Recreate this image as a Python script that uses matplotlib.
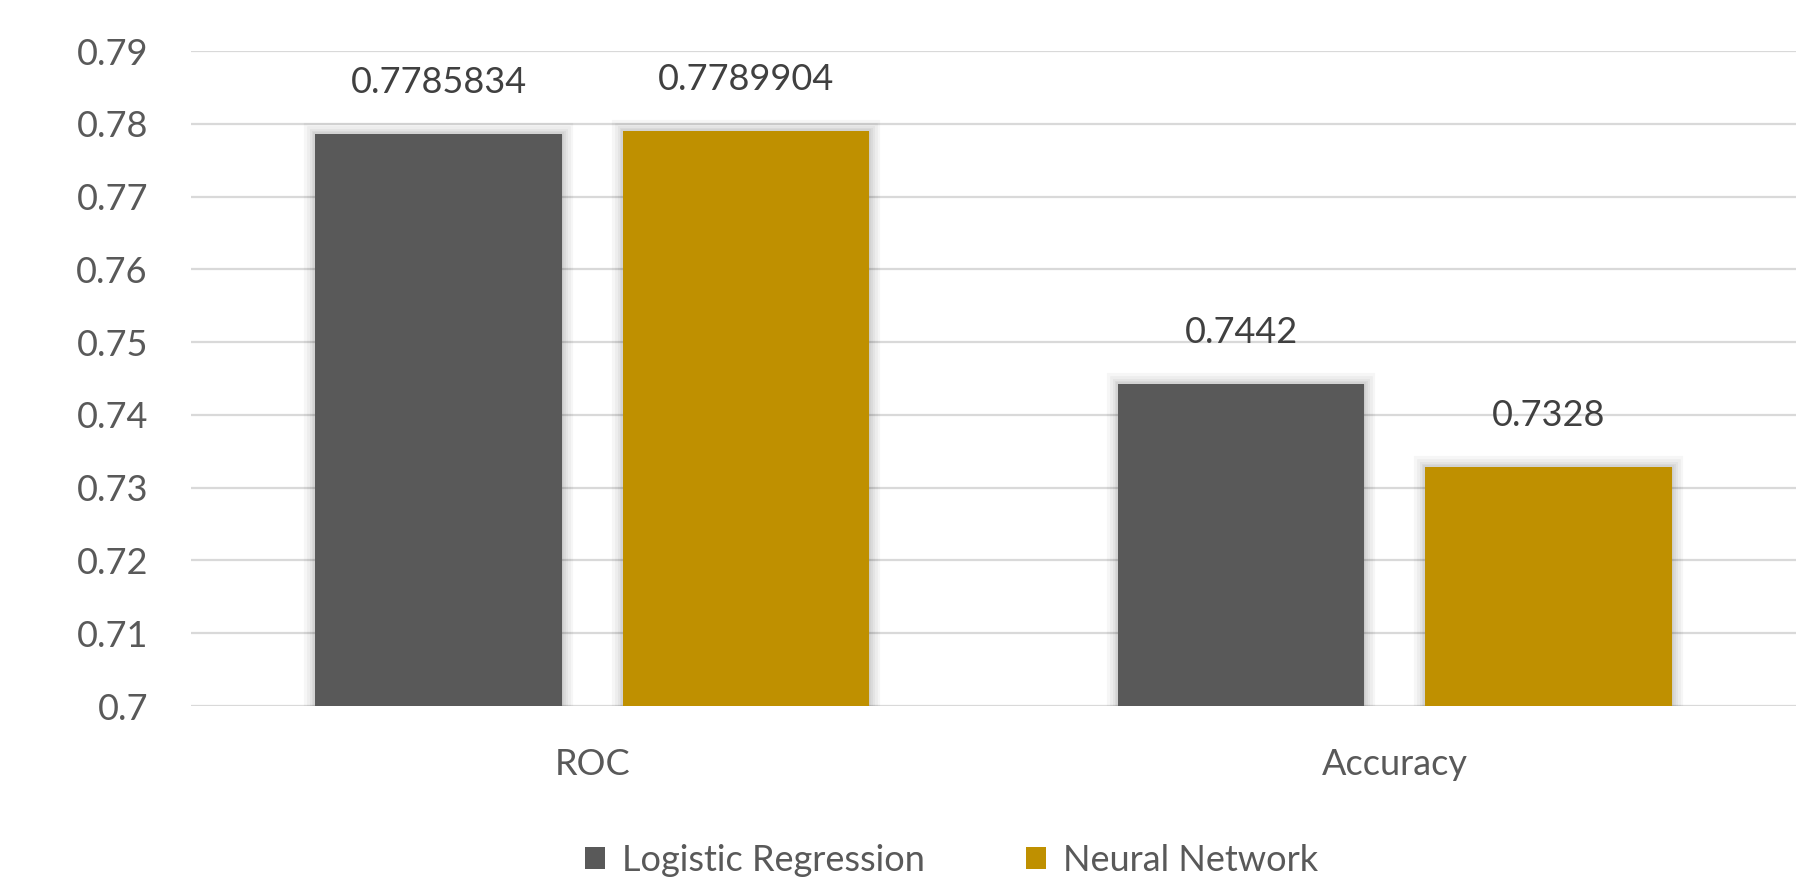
import numpy as np
import matplotlib
matplotlib.use("Agg")
import matplotlib.pyplot as plt
import matplotlib.patheffects as pe

plt.rcParams['font.family'] = ['Lato', 'DejaVu Sans']

# model scores
metrics = ['ROC', 'Accuracy']
models = ['Logistic Regression', 'Neural Network']
logreg = [0.7785834, 0.7442]
neural = [0.7789904, 0.7328]
yticks = [0.7, 0.71, 0.72, 0.73, 0.74, 0.75, 0.76, 0.77, 0.78, 0.79]

colors = ['#595959', '#bf9000']
txt = '#595959'
fs = 26

fig = plt.figure(figsize=(18.17, 8.8), dpi=100)
ax = fig.add_axes([0.1051, 0.1977, 0.8833, 0.7443])

x = np.arange(len(metrics))
width = 0.307
offset = 0.1915

# soft glow behind each bar
glow = [pe.Stroke(linewidth=w, foreground='black', alpha=0.035) for w in (16, 12, 8, 5, 3)]
glow.append(pe.Normal())

for i, (vals, name) in enumerate(zip([logreg, neural], models)):
    pos = x + (i * 2 - 1) * offset
    bars = ax.bar(pos, np.array(vals) - 0.7, width, bottom=0.7, color=colors[i],
                  label=name, zorder=3)
    for b in bars:
        b.set_path_effects(glow)
    for p, v in zip(pos, vals):
        ax.annotate(str(v), (p, v), xytext=(0, 37), textcoords='offset points',
                    ha='center', va='center', fontsize=fs, color='#404040')

ax.set_xlim(-0.5, 1.5)
ax.set_ylim(0.7, 0.79)
ax.set_yticks(yticks)
ax.set_yticklabels([f'{t:g}' for t in yticks])
ax.set_xticks(x)
ax.set_xticklabels(metrics)
ax.yaxis.grid(True, color='#d9d9d9', linewidth=1.6, zorder=0)
ax.set_axisbelow(True)
for s in ax.spines.values():
    s.set_visible(False)
ax.tick_params(axis='both', length=0, labelsize=fs, colors=txt)
ax.tick_params(axis='y', pad=31)
ax.tick_params(axis='x', pad=30)

leg = fig.legend(loc='center', bbox_to_anchor=(0.5236, 0.022), ncol=2, frameon=False,
                 fontsize=fs, handlelength=0.56, handleheight=0.56, handletextpad=0.46,
                 columnspacing=2.8, borderpad=0)
for h in leg.legend_handles:
    h.set_path_effects([])
for t in leg.get_texts():
    t.set_color(txt)

fig.savefig('out.png', dpi=100)
